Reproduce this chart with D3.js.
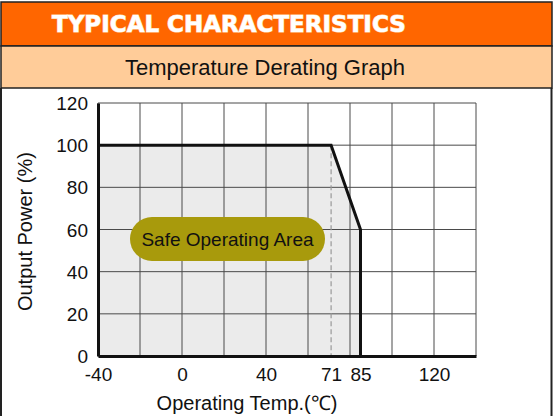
<!DOCTYPE html>
<meta charset="utf-8">
<style>
body { margin: 0; background: #fff; }
svg text { font-family: "Liberation Sans", Arial, sans-serif; }
.title { font-family: "DejaVu Sans", Verdana, sans-serif !important; font-weight: bold; fill: #fff;
  paint-order: stroke; stroke: #ffd9b0; stroke-width: 1.2px; }
.grid line { stroke: #4a4a4a; stroke-width: 1; }
.tick text { font-size: 19px; fill: #111; }
</style>
<svg width="557" height="416"></svg>
<script src="https://cdn.jsdelivr.net/npm/d3@7"></script>
<script>

// derating curve: temperature (°C) vs output power (%)
var temps = [-40, 71, 85, 85];
var power = [100, 100, 60, 0];
var xTicks = [-40, 0, 40, 71, 85, 120];
var yTicks = [0, 20, 40, 60, 80, 100, 120];
var xGrid = [-40, -20, 0, 20, 40, 60, 80, 100, 120, 140];

var svg = d3.select("svg");

// header bands
svg.append("rect").attr("x", 1).attr("y", 2).attr("width", 551).attr("height", 44)
    .attr("fill", "#ff6600").attr("stroke", "#222").attr("stroke-width", 1.5);
svg.append("rect").attr("x", 1).attr("y", 46).attr("width", 551).attr("height", 42)
    .attr("fill", "#ffcc99").attr("stroke", "#222").attr("stroke-width", 1.5);
svg.append("line").attr("x1", 1).attr("x2", 1).attr("y1", 88).attr("y2", 416)
    .attr("stroke", "#222").attr("stroke-width", 2);
svg.append("line").attr("x1", 551.5).attr("x2", 551.5).attr("y1", 88).attr("y2", 416)
    .attr("stroke", "#222").attr("stroke-width", 2);

svg.append("text").attr("class", "title")
    .attr("x", 52).attr("y", 32)
    .style("font-size", "23px")
    .text("TYPICAL CHARACTERISTICS");

svg.append("text")
    .attr("x", 265).attr("y", 75)
    .attr("text-anchor", "middle")
    .style("font-size", "22px").attr("fill", "#111")
    .text("Temperature Derating Graph");

var x = d3.scaleLinear().domain([-40, 140]).range([98, 476]);
var y = d3.scaleLinear().domain([0, 120]).range([356, 103]);

var pts = temps.map(function(t, i) { return [t, power[i]]; });

// shaded safe area
var area = d3.area()
    .x(function(d) { return x(d[0]); })
    .y0(y(0))
    .y1(function(d) { return y(d[1]); });
svg.append("path").datum(pts).attr("d", area).attr("fill", "#ebebeb");

// grid
var grid = svg.append("g").attr("class", "grid");
grid.selectAll(".v").data(xGrid).enter().append("line")
    .attr("x1", function(d) { return x(d); }).attr("x2", function(d) { return x(d); })
    .attr("y1", y(120)).attr("y2", y(0));
grid.selectAll(".h").data(yTicks).enter().append("line")
    .attr("x1", x(-40)).attr("x2", x(140))
    .attr("y1", function(d) { return y(d); }).attr("y2", function(d) { return y(d); });

// dashed marker at 71
svg.append("line")
    .attr("x1", x(71)).attr("x2", x(71)).attr("y1", y(100)).attr("y2", y(0))
    .attr("stroke", "#999").attr("stroke-width", 1.2).attr("stroke-dasharray", "5,3");

// axes
var xAxis = svg.append("g").attr("transform", "translate(0," + y(0) + ")")
    .call(d3.axisBottom(x).tickValues(xTicks).tickSize(0).tickPadding(12).tickFormat(String));
xAxis.select(".domain").attr("stroke", "#111").attr("stroke-width", 3);
var yAxis = svg.append("g").attr("transform", "translate(" + x(-40) + ",0)")
    .call(d3.axisLeft(y).tickValues(yTicks).tickSize(0).tickPadding(10).tickFormat(String));
yAxis.select(".domain").attr("stroke", "#111").attr("stroke-width", 3);
yAxis.selectAll("text").attr("dy", "0.35em");

// derating line
var line = d3.line().x(function(d) { return x(d[0]); }).y(function(d) { return y(d[1]); });
svg.append("path").datum(pts).attr("d", line)
    .attr("fill", "none").attr("stroke", "#111").attr("stroke-width", 3);

// safe operating area label
svg.append("rect").attr("x", 130).attr("y", 217).attr("width", 195).attr("height", 44)
    .attr("rx", 22).attr("fill", "#a89a0c");
svg.append("text").attr("x", 227.5).attr("y", 246)
    .attr("text-anchor", "middle").style("font-size", "19px").attr("fill", "#111")
    .text("Safe Operating Area");

// axis titles
svg.append("text")
    .attr("transform", "translate(32," + y(59) + ") rotate(-90)")
    .attr("text-anchor", "middle").style("font-size", "20px").attr("fill", "#111")
    .text("Output Power (%)");
svg.append("text")
    .attr("x", 247).attr("y", 410)
    .attr("text-anchor", "middle").style("font-size", "20px").attr("fill", "#111")
    .text("Operating Temp.(℃)");

</script>
